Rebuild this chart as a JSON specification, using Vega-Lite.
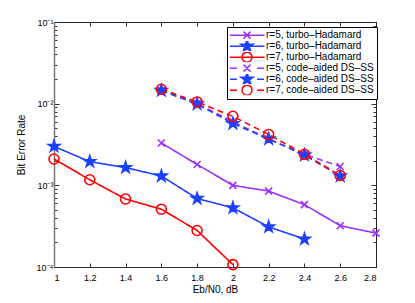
{
  "$schema": "https://vega.github.io/schema/vega-lite/v6.json",
  "width": 322,
  "height": 245,
  "autosize": {"type": "none"},
  "padding": {"left": 54, "top": 22, "right": 39, "bottom": 36},
  "background": "white",
  "config": {
    "font": "Liberation Sans",
    "view": {"stroke": "#222", "strokeWidth": 1},
    "axis": {"grid": false, "labelFont": "Liberation Sans", "labelFontSize": 9, "labelColor": "#000", "titleFont": "Liberation Sans", "titleFontSize": 10, "titleFontWeight": "normal", "titleColor": "#000", "tickColor": "#333", "tickWidth": 1, "domainColor": "#222"},
    "legend": {"labelFont": "Liberation Sans", "labelFontSize": 10, "labelColor": "#000", "strokeColor": "#000", "fillColor": "#fff", "padding": 3, "rowPadding": 0, "clipHeight": 10.3, "symbolStrokeWidth": 1.5, "symbolSize": 100, "symbolOffset": 11, "labelOffset": 13}
  },
  "datasets": {
    "ber": [
      {"ebn0": 1.6, "ber": 0.0033, "series": "r=5, turbo–Hadamard"},
      {"ebn0": 1.8, "ber": 0.0018, "series": "r=5, turbo–Hadamard"},
      {"ebn0": 2.0, "ber": 0.001, "series": "r=5, turbo–Hadamard"},
      {"ebn0": 2.2, "ber": 0.00085, "series": "r=5, turbo–Hadamard"},
      {"ebn0": 2.4, "ber": 0.00058, "series": "r=5, turbo–Hadamard"},
      {"ebn0": 2.6, "ber": 0.00032, "series": "r=5, turbo–Hadamard"},
      {"ebn0": 2.8, "ber": 0.00026, "series": "r=5, turbo–Hadamard"},
      {"ebn0": 1.0, "ber": 0.003, "series": "r=6, turbo–Hadamard"},
      {"ebn0": 1.2, "ber": 0.00195, "series": "r=6, turbo–Hadamard"},
      {"ebn0": 1.4, "ber": 0.00165, "series": "r=6, turbo–Hadamard"},
      {"ebn0": 1.6, "ber": 0.0013, "series": "r=6, turbo–Hadamard"},
      {"ebn0": 1.8, "ber": 0.00069, "series": "r=6, turbo–Hadamard"},
      {"ebn0": 2.0, "ber": 0.00053, "series": "r=6, turbo–Hadamard"},
      {"ebn0": 2.2, "ber": 0.00031, "series": "r=6, turbo–Hadamard"},
      {"ebn0": 2.4, "ber": 0.00022, "series": "r=6, turbo–Hadamard"},
      {"ebn0": 1.0, "ber": 0.0021, "series": "r=7, turbo–Hadamard"},
      {"ebn0": 1.2, "ber": 0.00117, "series": "r=7, turbo–Hadamard"},
      {"ebn0": 1.4, "ber": 0.00068, "series": "r=7, turbo–Hadamard"},
      {"ebn0": 1.6, "ber": 0.00051, "series": "r=7, turbo–Hadamard"},
      {"ebn0": 1.8, "ber": 0.00028, "series": "r=7, turbo–Hadamard"},
      {"ebn0": 2.0, "ber": 0.000107, "series": "r=7, turbo–Hadamard"},
      {"ebn0": 1.6, "ber": 0.0145, "series": "r=5, code–aided DS–SS"},
      {"ebn0": 1.8, "ber": 0.01, "series": "r=5, code–aided DS–SS"},
      {"ebn0": 2.0, "ber": 0.006, "series": "r=5, code–aided DS–SS"},
      {"ebn0": 2.2, "ber": 0.0037, "series": "r=5, code–aided DS–SS"},
      {"ebn0": 2.4, "ber": 0.0024, "series": "r=5, code–aided DS–SS"},
      {"ebn0": 2.6, "ber": 0.0017, "series": "r=5, code–aided DS–SS"},
      {"ebn0": 1.6, "ber": 0.0145, "series": "r=6, code–aided DS–SS"},
      {"ebn0": 1.8, "ber": 0.0099, "series": "r=6, code–aided DS–SS"},
      {"ebn0": 2.0, "ber": 0.0057, "series": "r=6, code–aided DS–SS"},
      {"ebn0": 2.2, "ber": 0.0037, "series": "r=6, code–aided DS–SS"},
      {"ebn0": 2.4, "ber": 0.00235, "series": "r=6, code–aided DS–SS"},
      {"ebn0": 2.6, "ber": 0.0013, "series": "r=6, code–aided DS–SS"},
      {"ebn0": 1.6, "ber": 0.015, "series": "r=7, code–aided DS–SS"},
      {"ebn0": 1.8, "ber": 0.0105, "series": "r=7, code–aided DS–SS"},
      {"ebn0": 2.0, "ber": 0.007, "series": "r=7, code–aided DS–SS"},
      {"ebn0": 2.2, "ber": 0.0042, "series": "r=7, code–aided DS–SS"},
      {"ebn0": 2.4, "ber": 0.0024, "series": "r=7, code–aided DS–SS"},
      {"ebn0": 2.6, "ber": 0.00132, "series": "r=7, code–aided DS–SS"}
    ]
  },
  "data": {"name": "ber"},
  "layer": [
    {
      "mark": {"type": "line", "strokeWidth": 1.6},
      "encoding": {
        "x": {"field": "ebn0", "type": "quantitative", "scale": {"domain": [1, 2.8], "nice": false, "zero": false},
          "axis": {"orient": "bottom", "values": [1, 1.2, 1.4, 1.6, 1.8, 2, 2.2, 2.4, 2.6, 2.8], "format": ".1~f", "tickSize": -4, "labelPadding": 10, "title": "Eb/N0, dB", "titlePadding": 2, "domainColor": "#333"}},
        "y": {"field": "ber", "type": "quantitative", "scale": {"type": "log", "domain": [0.0001, 0.1], "nice": false},
          "axis": {"orient": "left", "values": [0.0001, 0.0002, 0.0003, 0.0004, 0.0005, 0.0006, 0.0007, 0.0008, 0.0009, 0.001, 0.002, 0.003, 0.004, 0.005, 0.006, 0.007, 0.008, 0.009, 0.01, 0.02, 0.03, 0.04, 0.05, 0.06, 0.07, 0.08, 0.09, 0.1],
            "labelExpr": "datum.value == 0.1 ? '10⁻¹' : datum.value == 0.01 ? '10⁻²' : datum.value == 0.001 ? '10⁻³' : datum.value == 0.0001 ? '10⁻⁴' : ''",
            "tickSize": {"condition": {"test": "indexof([0.1, 0.01, 0.001, 0.0001], datum.value) >= 0", "value": -5}, "value": -3},
            "labelPadding": 6, "title": "Bit Error Rate", "titlePadding": 10, "domainColor": "#777", "domainWidth": 1.5}},
        "stroke": {"field": "series", "type": "nominal",
          "scale": {"domain": ["r=5, turbo–Hadamard", "r=6, turbo–Hadamard", "r=7, turbo–Hadamard", "r=5, code–aided DS–SS", "r=6, code–aided DS–SS", "r=7, code–aided DS–SS"],
            "range": ["#9b30ff", "#1e40ff", "#ff0000", "#9b30ff", "#1e40ff", "#ff0000"]}, "legend": null},
        "strokeDash": {"field": "series", "type": "nominal",
          "scale": {"domain": ["r=5, turbo–Hadamard", "r=6, turbo–Hadamard", "r=7, turbo–Hadamard", "r=5, code–aided DS–SS", "r=6, code–aided DS–SS", "r=7, code–aided DS–SS"],
            "range": [[1, 0], [1, 0], [1, 0], [6, 4], [6, 4], [6, 4]]}, "legend": null}
      }
    },
    {
      "mark": {"type": "point", "filled": false, "size": 100, "strokeWidth": 1.6, "opacity": 1},
      "encoding": {
        "x": {"field": "ebn0", "type": "quantitative", "axis": null},
        "y": {"field": "ber", "type": "quantitative", "axis": null},
        "stroke": {"field": "series", "type": "nominal", "legend": null},
        "fill": {"field": "series", "type": "nominal",
          "scale": {"domain": ["r=5, turbo–Hadamard", "r=6, turbo–Hadamard", "r=7, turbo–Hadamard", "r=5, code–aided DS–SS", "r=6, code–aided DS–SS", "r=7, code–aided DS–SS"],
            "range": ["transparent", "#1e40ff", "transparent", "transparent", "#1e40ff", "transparent"]}, "legend": null},
        "shape": {"field": "series", "type": "nominal",
          "scale": {"domain": ["r=5, turbo–Hadamard", "r=6, turbo–Hadamard", "r=7, turbo–Hadamard", "r=5, code–aided DS–SS", "r=6, code–aided DS–SS", "r=7, code–aided DS–SS"],
            "range": [
              "M-0.7,-0.7L0.7,0.7M-0.7,0.7L0.7,-0.7",
              "M0,-1.2L0.269,-0.371L1.141,-0.371L0.436,0.142L0.705,0.971L0,0.459L-0.705,0.971L-0.436,0.142L-1.141,-0.371L-0.269,-0.371Z",
              "M1,0A1,1,0,1,1,-1,0A1,1,0,1,1,1,0Z",
              "M-0.7,-0.7L0.7,0.7M-0.7,0.7L0.7,-0.7",
              "M0,-1.2L0.269,-0.371L1.141,-0.371L0.436,0.142L0.705,0.971L0,0.459L-0.705,0.971L-0.436,0.142L-1.141,-0.371L-0.269,-0.371Z",
              "M1,0A1,1,0,1,1,-1,0A1,1,0,1,1,1,0Z"
            ]}, "legend": null}
      }
    },
    {
      "transform": [{"filter": "false"}],
      "mark": {"type": "point", "filled": false, "size": 100, "strokeWidth": 1.5, "opacity": 1},
      "encoding": {
        "x": {"field": "ebn0", "type": "quantitative", "scale": {"domain": [1, 2.8], "nice": false, "zero": false},
          "axis": {"orient": "top", "values": [1, 1.2, 1.4, 1.6, 1.8, 2, 2.2, 2.4, 2.6, 2.8], "labels": false, "tickSize": -4, "title": null, "domainColor": "#222"}},
        "y": {"field": "ber", "type": "quantitative", "scale": {"type": "log", "domain": [0.0001, 0.1], "nice": false},
          "axis": {"orient": "right", "values": [0.0001, 0.0002, 0.0003, 0.0004, 0.0005, 0.0006, 0.0007, 0.0008, 0.0009, 0.001, 0.002, 0.003, 0.004, 0.005, 0.006, 0.007, 0.008, 0.009, 0.01, 0.02, 0.03, 0.04, 0.05, 0.06, 0.07, 0.08, 0.09, 0.1],
            "labels": false, "tickSize": {"condition": {"test": "indexof([0.1, 0.01, 0.001, 0.0001], datum.value) >= 0", "value": -5}, "value": -3}, "title": null, "domainColor": "#222"}},
        "stroke": {"field": "series", "type": "nominal", "legend": {"orient": "none", "legendX": 173, "legendY": 5, "title": null}},
        "fill": {"field": "series", "type": "nominal", "legend": {"orient": "none", "legendX": 173, "legendY": 5, "title": null}},
        "shape": {"field": "series", "type": "nominal",
          "scale": {"domain": ["r=5, turbo–Hadamard", "r=6, turbo–Hadamard", "r=7, turbo–Hadamard", "r=5, code–aided DS–SS", "r=6, code–aided DS–SS", "r=7, code–aided DS–SS"],
            "range": [
              "M-3.5,0L3.5,0M-0.7,-0.7L0.7,0.7M-0.7,0.7L0.7,-0.7",
              "M-3.5,0L3.5,0M0,-1.3L0.292,-0.402L1.236,-0.402L0.472,0.153L0.764,1.052L0,0.497L-0.764,1.052L-0.472,0.153L-1.236,-0.402L-0.292,-0.402Z",
              "M-3.5,0L3.5,0M1,0A1,1,0,1,1,-1,0A1,1,0,1,1,1,0Z",
              "M-3.4,0L-2,0M2,0L3.4,0M-0.7,-0.7L0.7,0.7M-0.7,0.7L0.7,-0.7",
              "M-3.4,0L-2,0M2,0L3.4,0M0,-1.3L0.292,-0.402L1.236,-0.402L0.472,0.153L0.764,1.052L0,0.497L-0.764,1.052L-0.472,0.153L-1.236,-0.402L-0.292,-0.402Z",
              "M-3.4,0L-2,0M2,0L3.4,0M1,0A1,1,0,1,1,-1,0A1,1,0,1,1,1,0Z"
            ]},
          "legend": {"orient": "none", "legendX": 173, "legendY": 5, "title": null}}
      }
    }
  ],
  "resolve": {
    "scale": {"shape": "independent"},
    "axis": {"x": "independent", "y": "independent"},
    "legend": {"stroke": "independent", "fill": "independent", "shape": "independent"}
  }
}
